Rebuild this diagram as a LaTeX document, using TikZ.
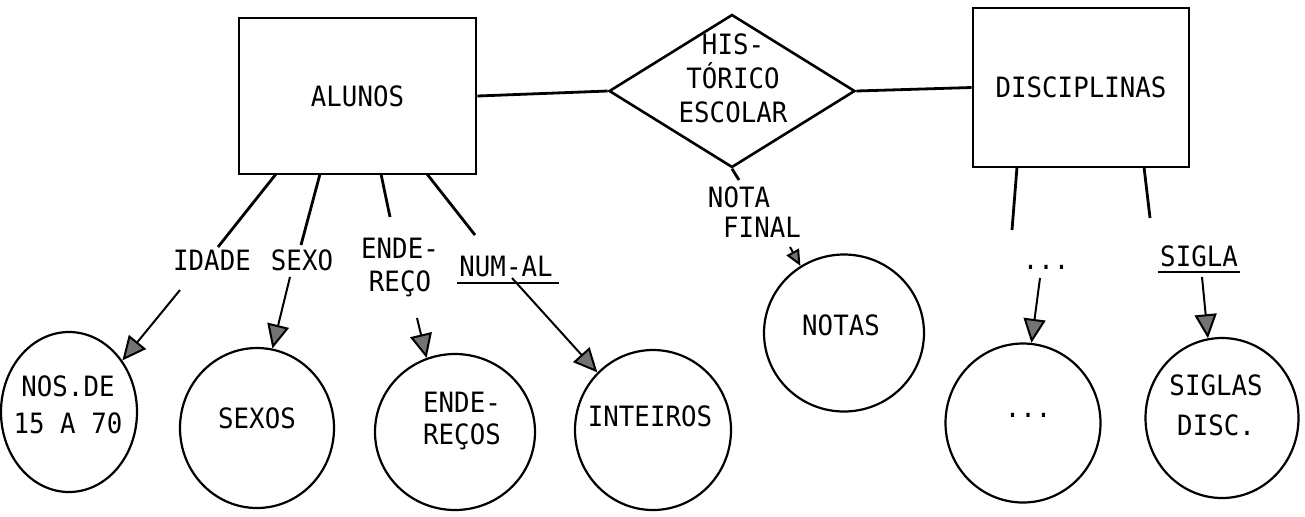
\documentclass[tikz,border=0pt]{standalone}
\usepackage{fontspec}
\newfontfamily\tw[FakeStretch=0.92]{DejaVu Sans Mono}
\usetikzlibrary{shapes.geometric,arrows.meta,calc}
\begin{document}
\begin{tikzpicture}[x=0.5pt,y=-0.5pt,
  txt/.style={font=\tw\fontsize{14}{17}\selectfont, inner sep=0pt, align=center},
  ent/.style={draw, line width=1.4pt, rectangle, inner sep=0pt, font=\tw\fontsize{14}{17}\selectfont},
  rel/.style={draw, line width=1.3pt, diamond, inner sep=0pt},
  dom/.style={draw, line width=1.1pt, ellipse, inner sep=0pt},
  link/.style={line width=1.4pt},
  ul/.style={line width=1.1pt},
  arr/.style={line width=1pt, -{Triangle[length=12pt,width=11pt,fill=black!55]}},
  sarr/.style={line width=1pt, -{Triangle[length=8pt,width=7pt,fill=black!55]}},
]
\useasboundingbox (0,0) rectangle (1305,516);

% entities and relationship
\node[ent, minimum width=118.5pt, minimum height=78pt] (alunos) at (357.5,96) {ALUNOS};
\node[rel, minimum width=123pt, minimum height=76.5pt] (hist) at (732,91) {};
\node[txt] (histt) at (733,78) {HIS-\\TÓRICO\\ESCOLAR};
\node[ent, minimum width=108pt, minimum height=79.5pt] (disc) at (1081,87.5) {DISCIPLINAS};

\draw[link] (alunos.east) -- (hist.west);
\draw[link] (hist.east) -- (disc.west);

% domains
\node[dom, minimum width=68pt, minimum height=80pt] (c1) at (69,412) {};
\node[txt, font=\tw\fontsize{14}{18.5}\selectfont] (c1t) at (68,405) {NOS.DE\\15 A 70};
\node[dom, minimum width=77pt, minimum height=80pt] (sexos) at (257,428) {};
\node[txt] (sexost) at (257,418) {SEXOS};
\node[dom, minimum width=80pt, minimum height=78pt] (ende) at (455,432) {};
\node[txt, font=\tw\fontsize{14}{16}\selectfont] (endet) at (462,421) {ENDE-\\REÇOS};
\node[dom, minimum width=78pt, minimum height=80pt] (inte) at (653,430) {};
\node[txt] (intet) at (650,416) {INTEIROS};
\node[dom, minimum width=80pt, minimum height=78.5pt] (notas) at (844,333) {};
\node[txt] (notast) at (841,325) {NOTAS};
\node[dom, minimum width=77.5pt, minimum height=79.5pt] (dots) at (1023,423) {};
\node[txt] (dotst) at (1028,415) {...};
\node[dom, minimum width=76.5pt, minimum height=80pt] (siglas) at (1222,418) {};
\node[txt, font=\tw\fontsize{14}{20}\selectfont] (siglast) at (1216,405) {SIGLAS\\DISC.};

% attribute labels
\node[txt] (idade) at (212,260) {IDADE};
\node[txt] (sexo) at (302,260) {SEXO};
\node[txt, font=\tw\fontsize{14}{16.5}\selectfont] (endl) at (400,267) {ENDE-\\REÇO};
\node[txt] (numal) at (506,266) {NUM-AL};
\node[txt] (nota) at (739,197) {NOTA};
\node[txt] (final) at (762,227) {FINAL};
\node[txt] (dotsl) at (1046,267) {...};
\node[txt] (sigla) at (1199,256) {SIGLA};

\draw[ul] ($(numal.south west)+(-2,6)$) -- ($(numal.south east)+(6,6)$);
\draw[ul] ($(sigla.south west)+(-2,5)$) -- ($(sigla.south east)+(2,5)$);

% attribute lines
\coordinate (l1a) at (276,174); \coordinate (l1b) at (218,247);
\coordinate (l2a) at (320,174); \coordinate (l2b) at (301,245);
\coordinate (l3a) at (381,174); \coordinate (l3b) at (390,217);
\coordinate (l4a) at (427,174); \coordinate (l4b) at (475,235);
\coordinate (h1) at (739,180);
\coordinate (d1a) at (1017,167); \coordinate (d1b) at (1012,230);
\coordinate (d2a) at (1144,167); \coordinate (d2b) at (1150,218);
\draw[link] (l1a) -- (l1b);
\draw[link] (l2a) -- (l2b);
\draw[link] (l3a) -- (l3b);
\draw[link] (l4a) -- (l4b);
\draw[link] (hist.south) -- (h1);
\draw[link] (d1a) -- (d1b);
\draw[link] (d2a) -- (d2b);

% arrows to domains
\coordinate (a1) at (180,290);
\coordinate (a2) at (290,277);
\coordinate (a3) at (417,318);
\coordinate (a4) at (512,278);
\coordinate (a5) at (790,247);
\coordinate (a6) at (1040,278);
\coordinate (a7) at (1202,277);
\draw[arr] (a1) -- (c1.44);
\draw[arr] (a2) -- (sexos.79);
\draw[arr] (a3) -- (ende.111);
\draw[arr] (a4) -- (inte.134);
\draw[sarr] (a5) -- (notas.123);
\draw[arr] (a6) -- (dots.84);
\draw[arr] (a7) -- (siglas.100);
\end{tikzpicture}
\end{document}
